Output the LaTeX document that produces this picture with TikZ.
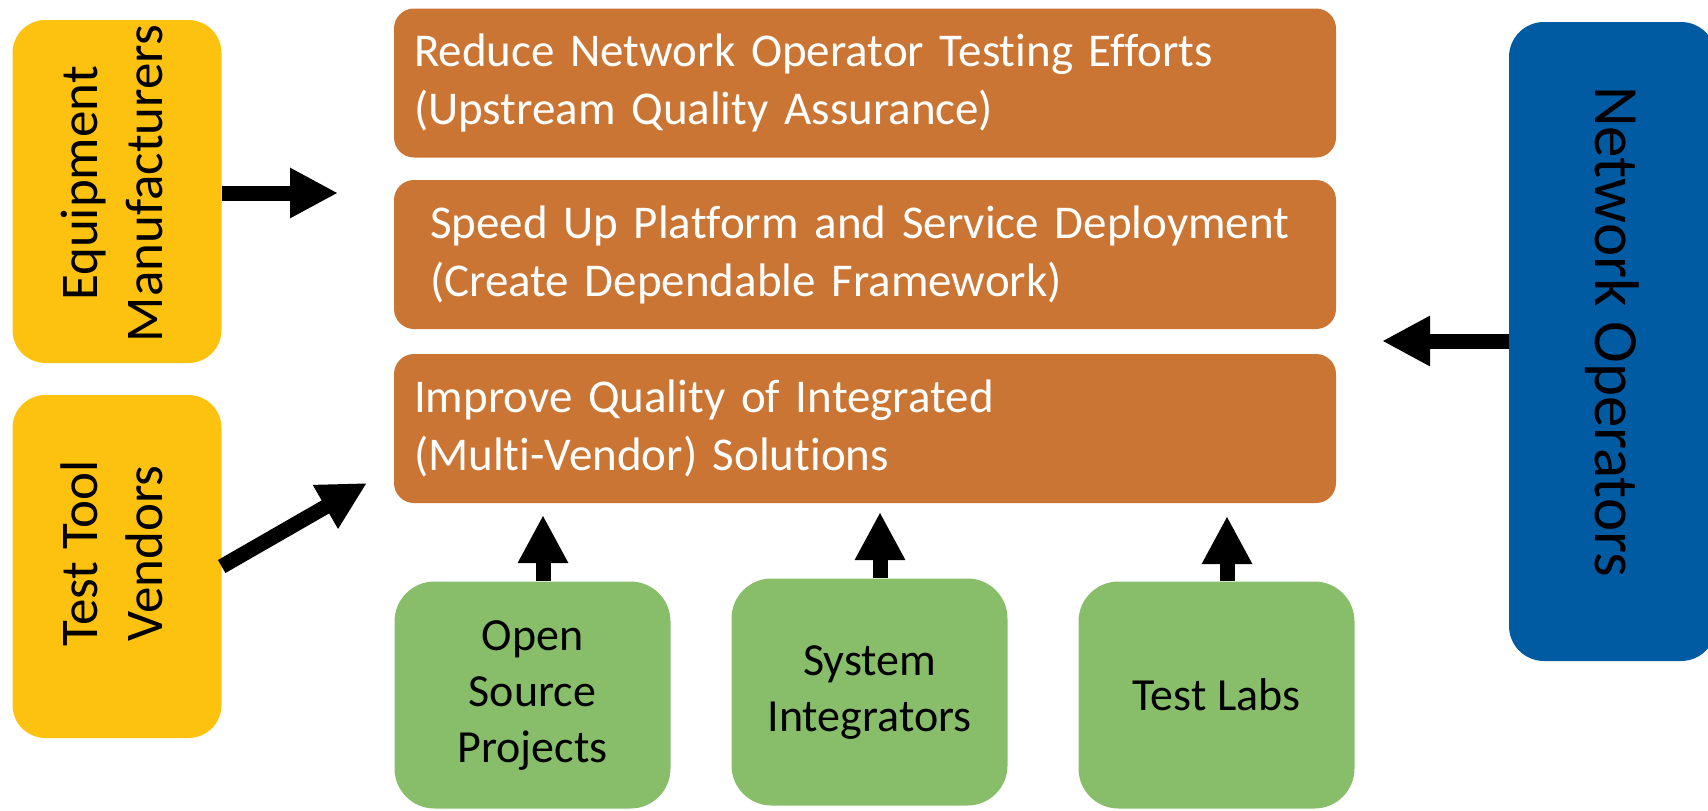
\documentclass[tikz,border=0pt]{standalone}
\usepackage{fontspec}
\usepackage{graphicx}
\setmainfont{Carlito}[Ligatures=NoCommon]
\usetikzlibrary{arrows.meta}
\definecolor{ylw}{HTML}{FDC20F}
\definecolor{org}{HTML}{CB7535}
\definecolor{grn}{HTML}{88BD6A}
\definecolor{blu}{HTML}{005BA3}
\newcommand{\stk}[1]{\begin{tabular}{@{}c@{}}#1\end{tabular}}
\tikzset{
  ybox/.style={fill=ylw, rounded corners=33pt, minimum width=209pt, minimum height=343pt, inner sep=0pt,
    font=\fontsize{53}{65}\selectfont, text=black},
  obox/.style={fill=org, rounded corners=20pt, minimum height=149pt, inner xsep=20pt, inner ysep=0pt,
    text width=902pt, align=left, font=\fontsize{47}{58}\selectfont, text=white},
  gbox/.style={fill=grn, rounded corners=40pt, minimum width=276pt, minimum height=227pt, inner sep=0pt,
    align=center, font=\fontsize{46}{56}\selectfont, text=black},
  bbox/.style={fill=blu, rounded corners=35pt, minimum width=207pt, minimum height=639pt, inner sep=0pt,
    font=\fontsize{63}{76}\selectfont, text=black},
  bigarrow/.style={line width=15pt, -{Triangle[length=48pt,width=47pt]}}
}
\begin{document}
\begin{tikzpicture}[x=1pt,y=-1pt]
\useasboundingbox (0,0) rectangle (1708,811);
\clip (0,0) rectangle (1708,811);
% yellow boxes
\node[ybox] (em) at (117,191.5) {\rotatebox{90}{\hspace{16pt}\stk{Equipment\\Manufacturers}}};
\node[ybox] (ttv) at (117,566.5) {\rotatebox{90}{\hspace{26pt}\stk{Test Tool\\Vendors}}};
% orange boxes
\node[obox] (o1) at (865,83) {Reduce Network Operator Testing Efforts\\(Upstream Quality Assurance)};
\node[obox, inner xsep=36pt, text width=870pt] (o2) at (865,254.5) {Speed Up Platform and Service Deployment\\(Create Dependable Framework)};
\node[obox] (o3) at (865,428.5) {Improve Quality of Integrated\\(Multi-Vendor) Solutions};
% green boxes
\node[gbox] (g1) at (532.5,695) {\raisebox{-6pt}{\stk{Open\\Source\\Projects}}};
\node[gbox] (g2) at (869.5,692) {\raisebox{-6pt}{\stk{System\\Integrators}}};
\node[gbox] (g3) at (1216.5,695) {\raisebox{-5pt}{Test Labs}};
% blue box
\node[bbox] (no) at (1612.5,341.5) {\rotatebox{-90}{Network Operators\hspace{20pt}}};
% arrows
\coordinate (a1) at (338,193);
\coordinate (a2) at (367,483);
\coordinate (a3) at (1382,341);
\coordinate (t1) at (543,515);
\coordinate (t2) at (880,512);
\coordinate (t3) at (1227,516);
\draw[bigarrow] (em.east |- a1) -- (a1);
\draw[bigarrow] (ttv.east) -- (a2);
\draw[bigarrow] (no.west |- a3) -- (a3);
\draw[bigarrow] (g1.north -| t1) -- (t1);
\draw[bigarrow] (g2.north -| t2) -- (t2);
\draw[bigarrow] (g3.north -| t3) -- (t3);
\end{tikzpicture}
\end{document}
